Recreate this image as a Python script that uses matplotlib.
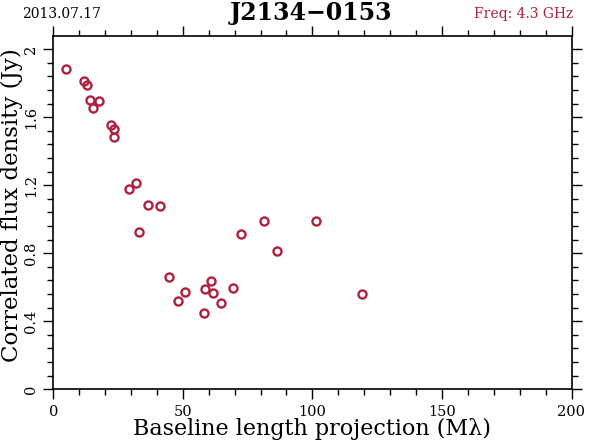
import matplotlib
matplotlib.use("Agg")
import matplotlib.pyplot as plt
from matplotlib.ticker import MultipleLocator

# Data
baseline = [4.9, 11.96, 13.0, 14.2, 17.6, 15.3, 22.4, 23.5, 23.5, 31.9, 29.2, 36.7,
            41.3, 33.0, 81.2, 101.3, 72.4, 86.5, 44.5, 60.9, 50.8, 58.5, 61.5, 69.4,
            48.1, 64.7, 58.0, 119.1]
flux = [1.882, 1.812, 1.788, 1.702, 1.694, 1.656, 1.553, 1.533, 1.482, 1.215, 1.176, 1.082,
        1.081, 0.924, 0.988, 0.992, 0.914, 0.815, 0.661, 0.639, 0.574, 0.588, 0.568, 0.596,
        0.519, 0.508, 0.449, 0.559]
x_ticks = [0, 50, 100, 150, 200]
y_ticks = [0, 0.4, 0.8, 1.2, 1.6, 2]
y_tick_labels = ["0", "0.4", "0.8", "1.2", "1.6", "2"]

color = "#B0203F"
serif = ["DejaVu Serif"]

fig = plt.figure(figsize=(5.9, 4.43), dpi=100)
ax = fig.add_axes([53.3 / 590, 1 - 389.3 / 443, (571.5 - 53.3) / 590, (389.3 - 36) / 443])

ax.plot(baseline, flux, linestyle="none", marker="o", markersize=5.8,
        markerfacecolor="none", markeredgecolor=color, markeredgewidth=1.7)

ax.set_xlim(0, 200)
ax.set_ylim(0, 2.078)
ax.set_xticks(x_ticks)
ax.set_xticklabels([str(t) for t in x_ticks], family=serif, fontsize=10.5)
ax.set_yticks(y_ticks)
ax.set_yticklabels(y_tick_labels, family=serif, fontsize=10.5, rotation=90, va="center")
ax.xaxis.set_minor_locator(MultipleLocator(10))
ax.yaxis.set_minor_locator(MultipleLocator(0.08))
ax.tick_params(which="both", direction="out", top=True, right=True, labeltop=False,
               labelright=False, width=1.0, color="black")
ax.tick_params(which="major", length=7, pad=4)
ax.tick_params(which="minor", length=4)
for s in ax.spines.values():
    s.set_linewidth(1.2)

fig.text(312 / 590, 1 - 429 / 443, "Baseline length projection (M\u03bb)", family=serif,
         fontsize=16, ha="center", va="center")
fig.text(12 / 590, 1 - 205 / 443, "Correlated flux density (Jy)", family=serif,
         fontsize=16.5, ha="center", va="center", rotation=90)

fig.text(311 / 590, 1 - 13 / 443, "J2134\u22120153", family=serif, fontsize=17,
         fontweight="bold", ha="center", va="center")
fig.text(22 / 590, 1 - 14 / 443, "2013.07.17", family=serif, fontsize=10,
         ha="left", va="center")
fig.text(573 / 590, 1 - 14 / 443, "Freq: 4.3 GHz", family=serif, fontsize=10,
         ha="right", va="center", color=color)

fig.savefig("out.png", dpi=100)
